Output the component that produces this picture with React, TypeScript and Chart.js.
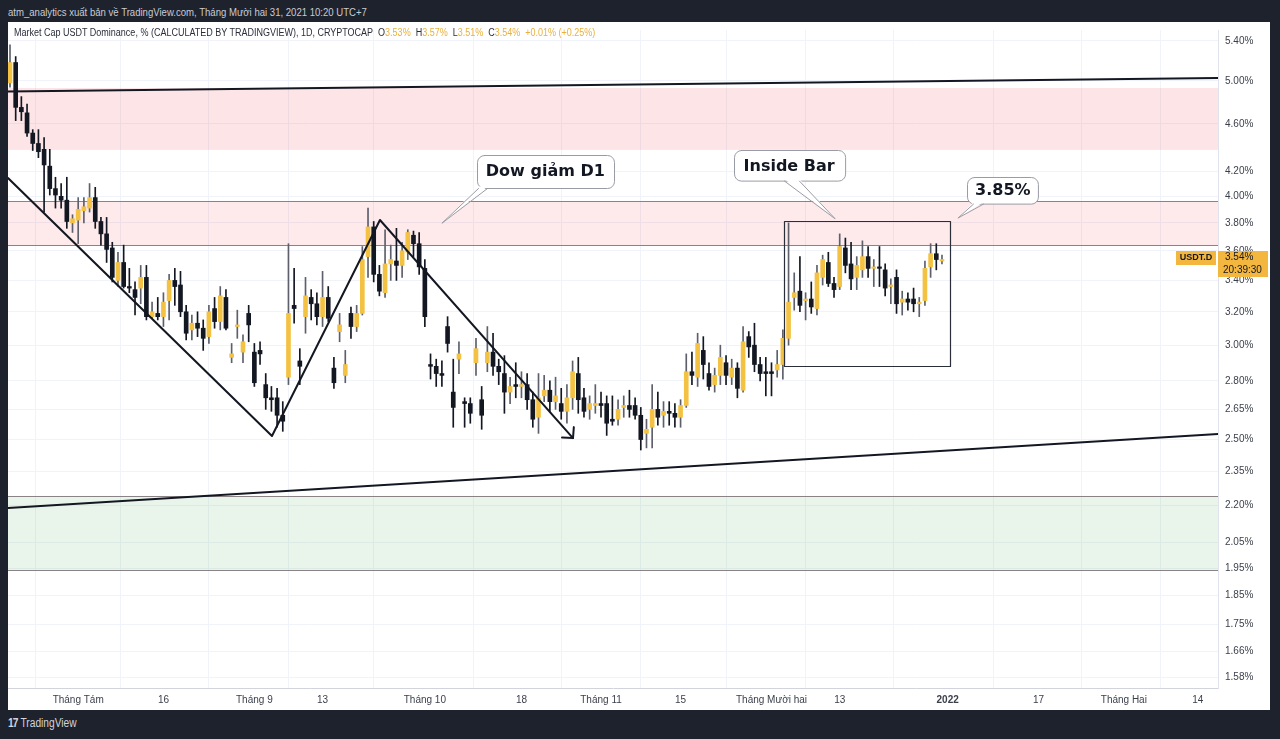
import { useEffect, useRef } from 'react';
import { Chart, registerables } from 'chart.js';

Chart.register(...registerables);

// Daily candles from 2021-07-20 (index 0) to 2021-12-31 (index 164), values in %
const opens = [4.98,5.18,4.75,4.70,4.52,4.43,4.38,4.24,4.06,4.00,3.97,3.80,3.82,3.89,3.91,3.99,3.81,3.72,3.62,3.40,3.52,3.36,3.34,3.35,3.42,3.17,3.19,3.17,3.27,3.40,3.37,3.20,3.09,3.13,3.10,3.05,3.22,3.14,3.29,2.93,3.11,2.96,3.19,2.96,2.97,2.78,2.71,2.71,2.62,2.82,3.24,2.91,3.17,3.29,3.25,3.17,3.29,2.87,3.08,2.83,3.19,3.11,3.19,3.56,3.77,3.44,3.32,3.51,3.53,3.50,3.59,3.71,3.65,3.48,2.89,2.88,2.84,3.11,2.74,2.92,2.69,2.68,2.90,2.70,2.90,2.96,2.88,2.84,2.74,2.78,2.77,2.78,2.70,2.61,2.72,2.75,2.69,2.68,2.64,2.71,2.84,2.71,2.65,2.67,2.68,2.68,2.60,2.60,2.66,2.67,2.67,2.62,2.53,2.56,2.65,2.62,2.64,2.63,2.61,2.67,2.85,2.82,2.97,2.84,2.78,2.83,2.90,2.82,2.87,2.75,3.05,3.00,2.89,2.85,2.85,2.86,2.89,3.04,3.29,3.33,3.27,3.28,3.22,3.42,3.52,3.38,3.36,3.62,3.51,3.42,3.47,3.56,3.48,3.49,3.47,3.36,3.42,3.26,3.28,3.28,3.25,3.27,3.49,3.58,3.53];
const highs = [5.36,5.24,4.85,4.78,4.55,4.55,4.48,4.38,4.15,4.10,4.15,3.86,3.99,3.99,4.10,4.07,3.84,3.84,3.66,3.59,3.64,3.48,3.39,3.50,3.50,3.26,3.29,3.32,3.44,3.48,3.46,3.24,3.18,3.20,3.15,3.24,3.29,3.36,3.34,3.01,3.21,3.06,3.24,3.01,3.02,2.84,2.77,2.76,2.69,3.65,3.48,2.98,3.42,3.34,3.32,3.46,3.36,2.93,3.19,2.97,3.23,3.24,3.63,3.91,3.81,3.50,3.75,3.64,3.76,3.66,3.75,3.74,3.73,3.54,2.95,2.92,2.91,3.17,2.92,3.02,2.71,2.71,3.04,2.77,3.11,3.07,2.92,2.94,2.82,2.90,2.85,2.84,2.74,2.84,2.83,2.80,2.82,2.76,2.78,2.91,2.93,2.76,2.72,2.78,2.74,2.72,2.72,2.70,2.72,2.75,2.71,2.66,2.60,2.78,2.74,2.69,2.69,2.68,2.70,2.95,2.96,3.07,3.05,2.90,2.87,3.00,2.94,2.92,2.90,3.11,3.08,3.13,2.93,2.93,2.90,2.97,3.09,3.80,3.45,3.56,3.32,3.39,3.50,3.57,3.59,3.42,3.72,3.69,3.66,3.56,3.67,3.63,3.54,3.63,3.51,3.41,3.47,3.33,3.32,3.35,3.29,3.53,3.65,3.65,3.57];
const lows = [4.94,4.63,4.63,4.49,4.37,4.31,3.88,4.01,3.91,3.91,3.76,3.73,3.65,3.80,3.88,3.76,3.64,3.52,3.39,3.36,3.35,3.32,3.18,3.25,3.15,3.16,3.15,3.11,3.15,3.24,3.17,3.03,3.03,3.05,2.97,3.01,3.10,3.09,3.09,2.90,3.04,2.90,3.02,2.77,2.89,2.65,2.64,2.56,2.54,2.78,3.13,2.78,3.07,3.15,3.12,3.11,3.14,2.76,3.02,2.79,3.04,3.08,3.18,3.42,3.39,3.30,3.29,3.40,3.40,3.42,3.54,3.56,3.44,3.11,2.81,2.77,2.77,2.96,2.56,2.84,2.56,2.58,2.83,2.55,2.85,2.83,2.78,2.63,2.68,2.71,2.71,2.65,2.56,2.53,2.69,2.64,2.65,2.60,2.58,2.65,2.63,2.61,2.60,2.63,2.61,2.52,2.57,2.57,2.61,2.61,2.60,2.45,2.46,2.46,2.57,2.56,2.57,2.56,2.56,2.66,2.78,2.77,2.81,2.75,2.74,2.78,2.78,2.78,2.71,2.74,2.93,2.85,2.80,2.72,2.72,2.82,2.81,3.00,3.21,3.20,3.15,3.19,3.18,3.37,3.36,3.29,3.34,3.45,3.34,3.34,3.42,3.42,3.36,3.36,3.30,3.25,3.19,3.18,3.21,3.20,3.17,3.24,3.42,3.47,3.51];
const closes = [5.18,4.75,4.71,4.52,4.43,4.36,4.25,4.06,4.01,3.97,3.81,3.83,3.90,3.92,3.99,3.81,3.72,3.61,3.42,3.52,3.36,3.35,3.29,3.42,3.17,3.20,3.17,3.26,3.40,3.36,3.20,3.07,3.13,3.10,3.04,3.20,3.14,3.30,3.10,2.95,3.12,3.02,3.12,2.79,2.95,2.71,2.70,2.62,2.59,3.19,3.22,2.88,3.30,3.25,3.17,3.29,3.16,2.79,3.12,2.89,3.11,3.19,3.54,3.77,3.44,3.33,3.51,3.54,3.50,3.60,3.73,3.65,3.49,3.17,2.88,2.84,2.83,3.01,2.66,2.95,2.68,2.63,2.98,2.62,2.96,2.88,2.85,2.74,2.77,2.77,2.78,2.70,2.60,2.71,2.75,2.69,2.72,2.64,2.71,2.85,2.70,2.64,2.68,2.68,2.67,2.58,2.59,2.65,2.67,2.65,2.62,2.50,2.55,2.65,2.61,2.64,2.63,2.61,2.67,2.85,2.83,3.01,2.89,2.77,2.83,2.93,2.83,2.87,2.76,3.02,2.99,2.89,2.84,2.84,2.84,2.89,3.04,3.26,3.32,3.24,3.28,3.23,3.45,3.54,3.38,3.34,3.63,3.50,3.41,3.50,3.56,3.48,3.49,3.48,3.35,3.37,3.25,3.28,3.26,3.25,3.26,3.48,3.58,3.54,3.54];

// X axis: day index (0 = 2021-07-20)
const xMinDay = -0.352;
const xMaxDay = 212.57;
const xTickDays = [12, 27, 43, 55, 73, 90, 104, 118, 134, 146, 165, 181, 196, 209];
const xTickLabels = ['Tháng Tám', '16', 'Tháng 9', '13', 'Tháng 10', '18', 'Tháng 11', '15', 'Tháng Mười hai', '13', '2022', '17', 'Tháng Hai', '14'];

// Y axis (log scale, %)
const yMin = 1.5468;
const yMax = 5.516;
const yTickValues = [5.40, 5.00, 4.60, 4.20, 4.00, 3.80, 3.60, 3.40, 3.20, 3.00, 2.80, 2.65, 2.50, 2.35, 2.20, 2.05, 1.95, 1.85, 1.75, 1.66, 1.58];

// Drawings (day index, %)
const zoneTop = [4.375, 4.931];
const zoneResistance = [3.641, 3.964];
const zoneSupport = [1.943, 2.242];
const upperTrend = [[-0.352, 4.898], [212.57, 5.028]];
const lowerTrend = [[-0.352, 2.19], [212.57, 2.527]];
const zigzag = [[-0.352, 4.144], [46.1, 2.517], [65.1, 3.821], [99.07, 2.507]];
const insideBarBox = [136.2, 2.884, 165.4, 3.816];
const calloutTexts = ['Dow giảm D1', 'Inside Bar', '3.85%'];
const calloutCenters = [[94.2, 4.20], [137.1, 4.245], [174.7, 4.05]];
const calloutTips = [[76.0, 3.797], [145.2, 3.83], [166.8, 3.835]];

const lastLabelTime = '20:39:30';

const YELLOW = '#f4c242';
const DARK = '#131722';

const drawPlugin = {
  id: 'tvDrawings',
  beforeDatasetsDraw(chart: any) {
    const { ctx, chartArea: a, scales } = chart;
    const y = scales.y;
    ctx.save();
    ctx.beginPath();
    ctx.rect(a.left, a.top, a.right - a.left, a.bottom - a.top);
    ctx.clip();
    const zone = (z: number[], fill: string, border: boolean) => {
      const y1 = y.getPixelForValue(z[1]);
      const y2 = y.getPixelForValue(z[0]);
      ctx.fillStyle = fill;
      ctx.fillRect(a.left, y1, a.right - a.left, y2 - y1);
      if (border) {
        ctx.strokeStyle = '#8a8386';
        ctx.lineWidth = 1.2;
        ctx.beginPath();
        ctx.moveTo(a.left, Math.round(y1) + 0.5);
        ctx.lineTo(a.right, Math.round(y1) + 0.5);
        ctx.moveTo(a.left, Math.round(y2) + 0.5);
        ctx.lineTo(a.right, Math.round(y2) + 0.5);
        ctx.stroke();
      }
    };
    zone(zoneTop, 'rgba(242, 54, 69, 0.13)', false);
    zone(zoneResistance, 'rgba(242, 54, 69, 0.11)', true);
    zone(zoneSupport, 'rgba(76, 175, 80, 0.12)', true);
    ctx.restore();
  },
  afterDatasetsDraw(chart: any) {
    const { ctx, chartArea: a, scales } = chart;
    const x = scales.x;
    const y = scales.y;
    const px = (p: number[]) => [x.getPixelForValue(p[0]), y.getPixelForValue(p[1])];
    ctx.save();
    ctx.beginPath();
    ctx.rect(a.left, a.top, a.right - a.left, a.bottom - a.top);
    ctx.clip();
    ctx.strokeStyle = DARK;
    ctx.lineWidth = 2;
    ctx.lineCap = 'round';
    ctx.lineJoin = 'round';
    [upperTrend, lowerTrend].forEach((ln) => {
      const p0 = px(ln[0]);
      const p1 = px(ln[1]);
      ctx.beginPath();
      ctx.moveTo(p0[0], p0[1]);
      ctx.lineTo(p1[0], p1[1]);
      ctx.stroke();
    });
    ctx.beginPath();
    zigzag.forEach((p, i) => {
      const q = px(p);
      if (i === 0) ctx.moveTo(q[0], q[1]);
      else ctx.lineTo(q[0], q[1]);
    });
    ctx.stroke();
    // arrow head
    const e = px(zigzag[zigzag.length - 1]);
    const s = px(zigzag[zigzag.length - 2]);
    const ang = Math.atan2(e[1] - s[1], e[0] - s[0]);
    const len = 11;
    ctx.beginPath();
    ctx.moveTo(e[0] + len * Math.cos(ang + Math.PI - 0.8), e[1] + len * Math.sin(ang + Math.PI - 0.8));
    ctx.lineTo(e[0], e[1]);
    ctx.lineTo(e[0] + len * Math.cos(ang + Math.PI + 0.8), e[1] + len * Math.sin(ang + Math.PI + 0.8));
    ctx.stroke();
    // inside bar rectangle
    const r0 = px([insideBarBox[0], insideBarBox[3]]);
    const r1 = px([insideBarBox[2], insideBarBox[1]]);
    ctx.lineWidth = 1.2;
    ctx.strokeStyle = '#2a2e39';
    ctx.strokeRect(Math.round(r0[0]) + 0.5, Math.round(r0[1]) + 0.5, Math.round(r1[0] - r0[0]), Math.round(r1[1] - r0[1]));
    // callouts
    const pads = [[9, 8.5, 1, 10], [10, 7.3, 50, 65], [7.7, 5.3, 6, 16]];
    calloutTexts.forEach((text, i) => {
      ctx.font = 'bold 16px "DejaVu Sans", Verdana, sans-serif';
      const tw = ctx.measureText(text).width;
      const [padX, padY, tA, tB] = pads[i];
      const w = tw + 2 * padX;
      const h = 16 + 2 * padY;
      const c = px(calloutCenters[i]);
      const t = px(calloutTips[i]);
      const left = Math.round(c[0] - w / 2) + 0.5;
      const top = Math.round(c[1] - h / 2) + 0.5;
      const bottom = top + h;
      ctx.lineWidth = 1;
      ctx.strokeStyle = '#9a9ca5';
      ctx.fillStyle = '#ffffff';
      ctx.beginPath();
      (ctx as any).roundRect(left, top, w, h, 7);
      ctx.fill();
      ctx.stroke();
      ctx.beginPath();
      ctx.moveTo(left + tA, bottom - 2);
      ctx.lineTo(t[0], t[1]);
      ctx.lineTo(left + tB, bottom - 2);
      ctx.closePath();
      ctx.fill();
      ctx.beginPath();
      ctx.moveTo(left + tA, bottom);
      ctx.lineTo(t[0], t[1]);
      ctx.lineTo(left + tB, bottom);
      ctx.stroke();
      ctx.fillStyle = DARK;
      ctx.textAlign = 'center';
      ctx.textBaseline = 'middle';
      ctx.fillText(text, c[0], c[1] + 1);
    });
    ctx.restore();
  },
  afterDraw(chart: any) {
    const { ctx, chartArea: a, scales } = chart;
    const y = scales.y;
    const last = closes[closes.length - 1];
    const yy = Math.round(y.getPixelForValue(last));
    ctx.save();
    ctx.fillStyle = '#f3b63f';
    ctx.fillRect(a.right - 42, yy - 9, 40, 14);
    ctx.fillRect(a.right, yy - 9, 50, 26);
    ctx.fillStyle = DARK;
    ctx.textBaseline = 'middle';
    ctx.textAlign = 'center';
    ctx.font = 'bold 9px "Liberation Sans", Arial, sans-serif';
    ctx.fillText('USDT.D', a.right - 22, yy - 2);
    ctx.textAlign = 'left';
    ctx.font = '10px "Liberation Sans", Arial, sans-serif';
    ctx.fillText(last.toFixed(2) + '%', a.right + 7, yy - 3);
    ctx.fillText(lastLabelTime, a.right + 5, yy + 10);
    ctx.restore();
  },
};

export default function App() {
  const ref = useRef<HTMLCanvasElement>(null);

  useEffect(() => {
    const canvas = ref.current;
    if (!canvas) return;
    const idx = opens.map((_, i) => i);
    const up = idx.map((i) => closes[i] >= opens[i]);
    const wickData = idx.map((i) => ({ x: i, y: [lows[i], highs[i]] }));
    const bodyData = idx.map((i) => ({ x: i, y: [Math.min(opens[i], closes[i]), Math.max(opens[i], closes[i])] }));

    const chart = new Chart(canvas, {
      type: 'bar',
      data: {
        datasets: [
          {
            data: wickData as any,
            backgroundColor: up.map((u) => (u ? '#5d606b' : DARK)),
            barThickness: 1,
            grouped: false,
            order: 2,
          } as any,
          {
            data: bodyData as any,
            backgroundColor: up.map((u) => (u ? YELLOW : DARK)),
            barThickness: 4,
            minBarLength: 1,
            grouped: false,
            order: 1,
          } as any,
        ],
      },
      options: {
        animation: false,
        responsive: false,
        devicePixelRatio: 1,
        events: [],
        layout: { padding: { top: 8, left: 0, right: 0, bottom: 0 } },
        plugins: { legend: { display: false }, tooltip: { enabled: false } },
        scales: {
          x: {
            type: 'linear',
            min: xMinDay,
            max: xMaxDay,
            offset: false,
            grid: { color: '#f0f3fa', drawTicks: false },
            border: { color: '#d1d4dc' },
            ticks: {
              autoSkip: false,
              maxRotation: 0,
              padding: 6,
              color: '#3b3f4a',
              font: (c: any) => ({
                size: 10,
                family: '"Liberation Sans", Arial, sans-serif',
                weight: c.tick && xTickLabels[xTickDays.indexOf(c.tick.value)] === '2022' ? 'bold' : 'normal',
              }),
              callback: (v: any) => {
                const k = xTickDays.indexOf(Number(v));
                return k >= 0 ? xTickLabels[k] : '';
              },
            },
            afterBuildTicks: (s: any) => {
              s.ticks = xTickDays.map((v) => ({ value: v }));
            },
            afterFit: (s: any) => {
              s.height = 22;
              s.paddingLeft = 0;
              s.paddingRight = 0;
            },
          },
          y: {
            type: 'logarithmic',
            position: 'right',
            min: yMin,
            max: yMax,
            grid: { color: '#f0f3fa', drawTicks: false },
            border: { color: '#e0e3eb' },
            ticks: {
              autoSkip: false,
              padding: 7,
              color: '#3b3f4a',
              font: { size: 10, family: '"Liberation Sans", Arial, sans-serif' },
              callback: (v: any) => Number(v).toFixed(2) + '%',
            },
            afterBuildTicks: (s: any) => {
              s.ticks = yTickValues.map((v) => ({ value: v }));
            },
            afterFit: (s: any) => {
              s.width = 52;
              s.paddingTop = 0;
              s.paddingBottom = 0;
            },
          },
        },
      } as any,
      plugins: [drawPlugin],
    });
    return () => chart.destroy();
  }, []);

  const orange = '#e9b13c';
  return (
    <div
      style={{
        position: 'fixed',
        left: 0,
        top: 0,
        width: 1280,
        height: 739,
        background: '#1e222d',
        overflow: 'hidden',
        fontFamily: '"Liberation Sans", Arial, sans-serif',
      }}
    >
      <div
        style={{
          position: 'absolute',
          left: 8,
          top: 5,
          fontSize: 11,
          lineHeight: '14px',
          color: '#c9ccd4',
          whiteSpace: 'nowrap',
          transform: 'scaleX(0.87)',
          transformOrigin: 'left center',
        }}
      >
        atm_analytics xuất bản về TradingView.com, Tháng Mười hai 31, 2021 10:20 UTC+7
      </div>
      <div style={{ position: 'absolute', left: 8, top: 22, width: 1262, height: 688, background: '#ffffff' }}>
        <canvas ref={ref} width={1262} height={688} style={{ display: 'block', width: 1262, height: 688 }} />
        <div
          style={{
            position: 'absolute',
            left: 6,
            top: 5,
            fontSize: 10,
            lineHeight: '12px',
            color: '#2a2e39',
            whiteSpace: 'nowrap',
            transform: 'scaleX(0.9)',
            transformOrigin: 'left center',
          }}
        >
          Market Cap USDT Dominance, % (CALCULATED BY TRADINGVIEW), 1D, CRYPTOCAP&nbsp;&nbsp;O
          <span style={{ color: orange }}>3.53%</span>&nbsp;&nbsp;H<span style={{ color: orange }}>3.57%</span>&nbsp;&nbsp;L
          <span style={{ color: orange }}>3.51%</span>&nbsp;&nbsp;C<span style={{ color: orange }}>3.54%</span>&nbsp;&nbsp;
          <span style={{ color: orange }}>+0.01% (+0.25%)</span>
        </div>
      </div>
      <div
        style={{
          position: 'absolute',
          left: 8,
          top: 716,
          fontSize: 12,
          lineHeight: '15px',
          color: '#d1d4dc',
          whiteSpace: 'nowrap',
          transform: 'scaleX(0.85)',
          transformOrigin: 'left center',
        }}
      >
        <span style={{ fontWeight: 900, letterSpacing: -1 }}>17</span>&nbsp;TradingView
      </div>
    </div>
  );
}
